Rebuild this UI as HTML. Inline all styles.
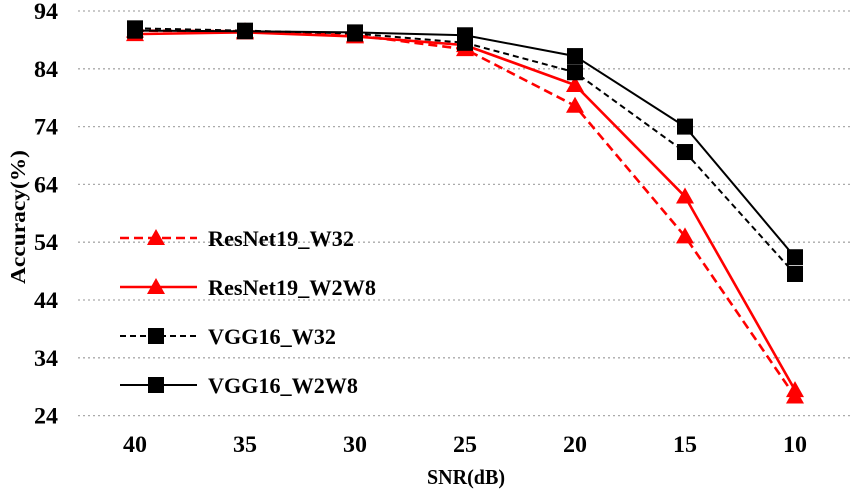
<!DOCTYPE html>
<html><head><meta charset="utf-8"><style>
body{margin:0;background:#fff}
svg{display:block;font-family:"Liberation Serif",serif;font-weight:bold}
</style></head><body>
<svg id="c" width="851" height="492"></svg>
<script>
const categories=["40","35","30","25","20","15","10"];
const yTicks=[94,84,74,64,54,44,34,24];
const resnetW32=[90.6,90.5,89.8,87.4,77.6,55.0,27.3];
const resnetW2W8=[90.0,90.3,89.6,88.1,81.2,61.9,28.4];
const vggW32=[91.0,90.6,90.1,88.5,83.4,69.6,48.5];
const vggW2W8=[90.6,90.5,90.3,89.8,86.2,74.0,51.4];
const seriesNames=["ResNet19_W32","ResNet19_W2W8","VGG16_W32","VGG16_W2W8"];
const NS="http://www.w3.org/2000/svg";
const svg=document.getElementById('c');
const x=i=>135+i*110;
const y=v=>11+(94-v)*5.78;
function mk(t,a,p){const e=document.createElementNS(NS,t);for(const k in a)e.setAttribute(k,a[k]);(p||svg).appendChild(e);return e;}
yTicks.forEach(t=>{
 const g=mk('line',{x1:78,x2:851,y1:y(t),y2:y(t),stroke:'#aaa','stroke-width':1.3,'stroke-dasharray':'2,3'});
 
 
 const l=mk('text',{x:58,y:y(t)+8,'text-anchor':'end','font-size':23,textLength:24,lengthAdjust:'spacingAndGlyphs'});
 l.textContent=t;
 
 
});
categories.forEach((c,i)=>{
 const l=mk('text',{x:x(i),y:452,'text-anchor':'middle','font-size':23,textLength:24,lengthAdjust:'spacingAndGlyphs'});
 l.textContent=c;
 
 
});
const xt=mk('text',{x:466,y:484,'text-anchor':'middle','font-size':21,textLength:78,lengthAdjust:'spacingAndGlyphs'});xt.textContent="SNR(dB)";


const yt=mk('text',{x:0,y:0,'text-anchor':'middle','font-size':21,textLength:134,lengthAdjust:'spacingAndGlyphs',transform:'translate(25,217) rotate(-90)'});yt.textContent="Accuracy(%)";


function marker(kind,cx,cy,col,p){
 if(kind==='tri') return mk('polygon',{points:`${cx},${cy-9} ${cx-9},${cy+7} ${cx+9},${cy+7}`,fill:col},p);
 return mk('rect',{x:cx-8,y:cy-8,width:16,height:16,fill:col},p);
}
const styles=[
 {d:resnetW32,col:'#f00',dash:'9,5',k:'tri',w:2.6},
 {d:resnetW2W8,col:'#f00',dash:'',k:'tri',w:2.6},
 {d:vggW32,col:'#000',dash:'6,4',k:'sq',w:2},
 {d:vggW2W8,col:'#000',dash:'',k:'sq',w:2}];
const legendW=[146,168,128,150];
styles.forEach((s,si)=>{
 const g=mk('g',{});
 
 
 mk('polyline',{points:s.d.map((v,i)=>x(i)+','+y(v)).join(' '),fill:'none',stroke:s.col,'stroke-width':s.w,'stroke-dasharray':s.dash},g);
 s.d.forEach((v,i)=>{const m=marker(s.k,x(i),y(v),s.col,g);
  
  });
 const ly=238+si*49;
 const lg=mk('g',{});
 
 
 mk('line',{x1:120,x2:197,y1:ly,y2:ly,stroke:s.col,'stroke-width':s.w,'stroke-dasharray':s.dash},lg);
 marker(s.k,156,ly,s.col,lg);
 const t=mk('text',{x:208,y:ly+8,'font-size':22,textLength:legendW[si],lengthAdjust:'spacingAndGlyphs'},lg);t.textContent=seriesNames[si];
});
</script>
</body></html>
